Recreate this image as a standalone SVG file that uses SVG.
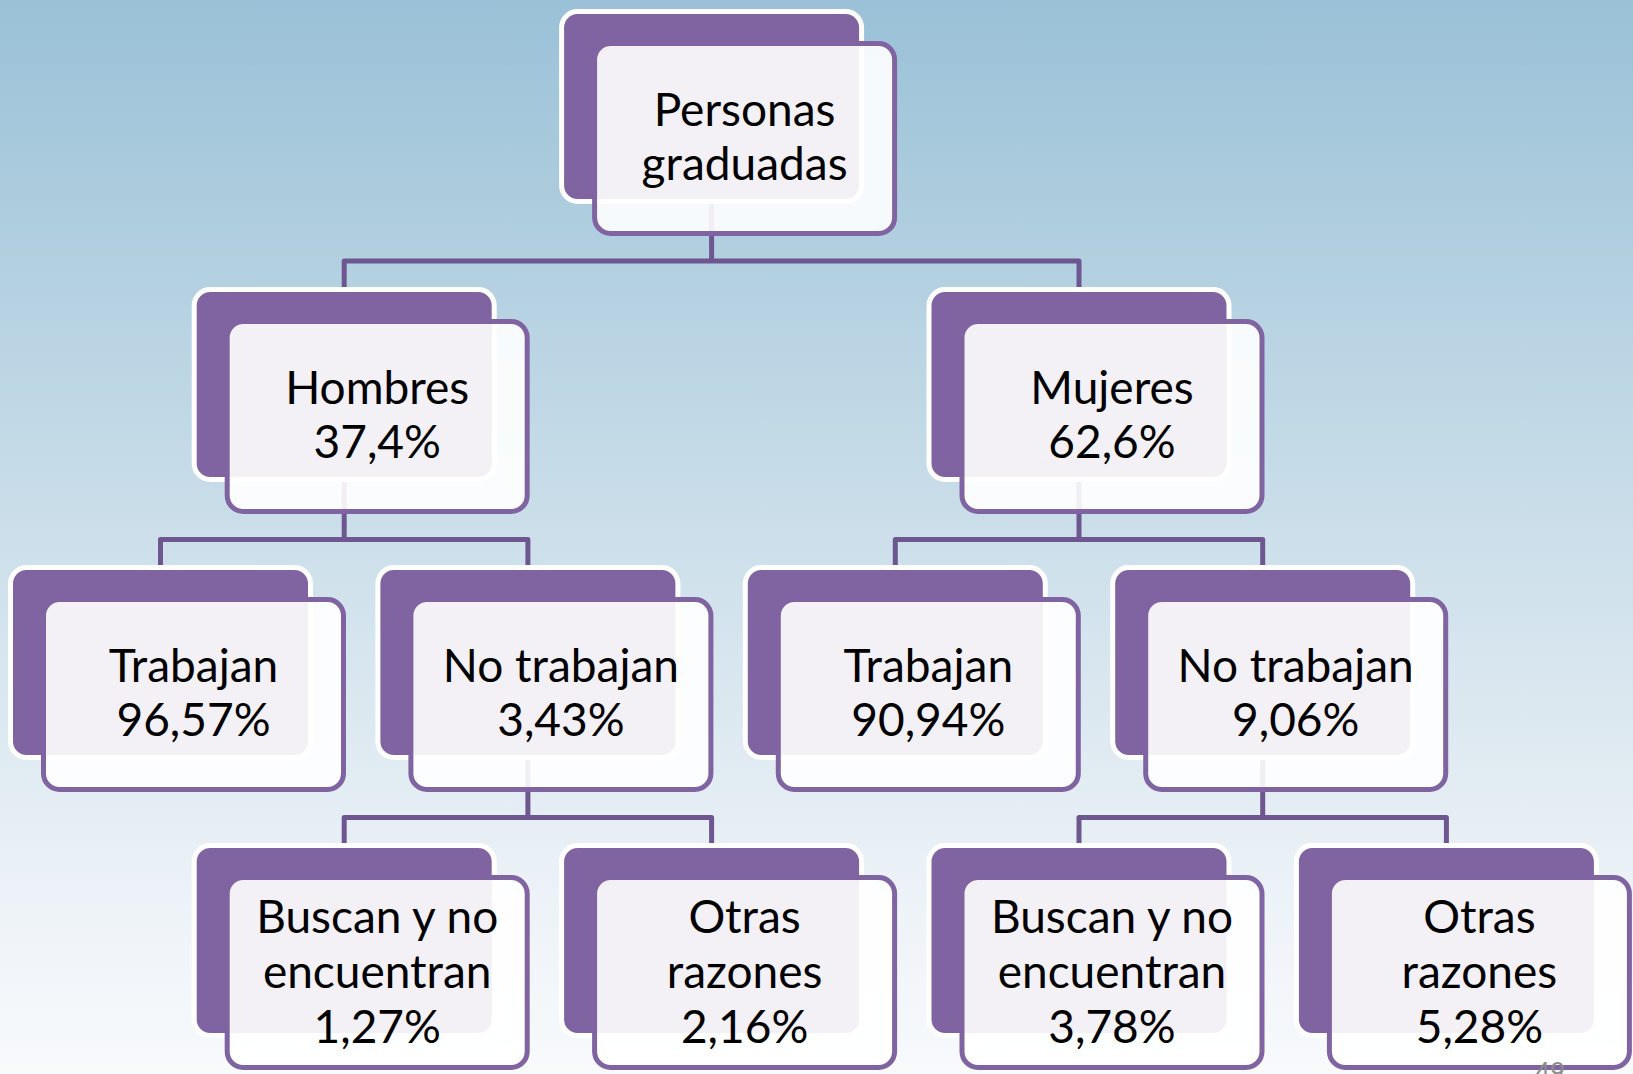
<svg xmlns="http://www.w3.org/2000/svg" width="1633" height="1074" viewBox="0 0 1633 1074">
<defs>
<linearGradient id="bg" x1="0" y1="0" x2="0" y2="1">
<stop offset="0" stop-color="#9AC1D7"/>
<stop offset="0.5" stop-color="#CCDFEA"/>
<stop offset="0.85" stop-color="#EEF3F8"/>
<stop offset="1" stop-color="#F8FAFC"/>
</linearGradient>
<style>
.back{fill:#8064A2;stroke:#FFFFFF;stroke-width:5}
.front{fill:#FFFFFF;fill-opacity:0.9;stroke:#8064A2;stroke-width:5}
.t{font-family:Lato,"Liberation Sans",sans-serif;font-size:46px;fill:#000000;text-anchor:middle}
.c{fill:none;stroke:#6E5690;stroke-width:5;stroke-linejoin:round}
</style>
</defs>
<rect x="0" y="0" width="1633" height="1074" fill="url(#bg)"/>
<g id="connectors">
<path class="c" d="M711.6 201.5V261M344.2 289.5V261H1079V289.5"/>
<path class="c" d="M344.2 479.5V539.5M160.5 567.5V539.5H527.9V567.5"/>
<path class="c" d="M1079 479.5V539.5M895.3 567.5V539.5H1262.7V567.5"/>
<path class="c" d="M527.9 757.5V817.5M344.2 845.5V817.5H711.6V845.5"/>
<path class="c" d="M1262.7 757.5V817.5M1079 845.5V817.5H1446.4V845.5"/>
</g>
<g id="n-top">
<rect class="back" x="561.6" y="11.5" width="300" height="190" rx="16"/>
<rect class="front" x="594.6" y="43.5" width="300" height="190" rx="16"/>
<text class="t" x="744.6" y="125.5">Personas</text>
<text class="t" x="744.6" y="179.5">graduadas</text>
</g>
<g id="n-hombres">
<rect class="back" x="194.2" y="289.5" width="300" height="190" rx="16"/>
<rect class="front" x="227.2" y="321.5" width="300" height="190" rx="16"/>
<text class="t" x="377.2" y="403.5">Hombres</text>
<text class="t" x="377.2" y="457.5">37,4%</text>
</g>
<g id="n-mujeres">
<rect class="back" x="929" y="289.5" width="300" height="190" rx="16"/>
<rect class="front" x="962" y="321.5" width="300" height="190" rx="16"/>
<text class="t" x="1112" y="403.5">Mujeres</text>
<text class="t" x="1112" y="457.5">62,6%</text>
</g>
<g id="n-trabajan-h">
<rect class="back" x="10.5" y="567.5" width="300" height="190" rx="16"/>
<rect class="front" x="43.5" y="599.5" width="300" height="190" rx="16"/>
<text class="t" x="193.5" y="681.5">Trabajan</text>
<text class="t" x="193.5" y="735.5">96,57%</text>
</g>
<g id="n-notrabajan-h">
<rect class="back" x="377.9" y="567.5" width="300" height="190" rx="16"/>
<rect class="front" x="410.9" y="599.5" width="300" height="190" rx="16"/>
<text class="t" x="560.9" y="681.5">No trabajan</text>
<text class="t" x="560.9" y="735.5">3,43%</text>
</g>
<g id="n-trabajan-m">
<rect class="back" x="745.3" y="567.5" width="300" height="190" rx="16"/>
<rect class="front" x="778.3" y="599.5" width="300" height="190" rx="16"/>
<text class="t" x="928.3" y="681.5">Trabajan</text>
<text class="t" x="928.3" y="735.5">90,94%</text>
</g>
<g id="n-notrabajan-m">
<rect class="back" x="1112.7" y="567.5" width="300" height="190" rx="16"/>
<rect class="front" x="1145.7" y="599.5" width="300" height="190" rx="16"/>
<text class="t" x="1295.7" y="681.5">No trabajan</text>
<text class="t" x="1295.7" y="735.5">9,06%</text>
</g>
<g id="n-buscan-h">
<rect class="back" x="194.2" y="845.5" width="300" height="190" rx="16"/>
<rect class="front" x="227.2" y="877.5" width="300" height="190" rx="16"/>
<text class="t" x="377.2" y="932.5">Buscan y no</text>
<text class="t" x="377.2" y="987.5">encuentran</text>
<text class="t" x="377.2" y="1042.5">1,27%</text>
</g>
<g id="n-otras-h">
<rect class="back" x="561.6" y="845.5" width="300" height="190" rx="16"/>
<rect class="front" x="594.6" y="877.5" width="300" height="190" rx="16"/>
<text class="t" x="744.6" y="932.5">Otras</text>
<text class="t" x="744.6" y="987.5">razones</text>
<text class="t" x="744.6" y="1042.5">2,16%</text>
</g>
<g id="n-buscan-m">
<rect class="back" x="929" y="845.5" width="300" height="190" rx="16"/>
<rect class="front" x="962" y="877.5" width="300" height="190" rx="16"/>
<text class="t" x="1112" y="932.5">Buscan y no</text>
<text class="t" x="1112" y="987.5">encuentran</text>
<text class="t" x="1112" y="1042.5">3,78%</text>
</g>
<g id="n-otras-m">
<rect class="back" x="1296.4" y="845.5" width="300" height="190" rx="16"/>
<rect class="front" x="1329.4" y="877.5" width="300" height="190" rx="16"/>
<text class="t" x="1479.4" y="932.5">Otras</text>
<text class="t" x="1479.4" y="987.5">razones</text>
<text class="t" x="1479.4" y="1042.5">5,28%</text>
</g>
<text x="1550" y="1082" font-family="Lato,'Liberation Sans',sans-serif" font-size="26" fill="#8C8C8C" text-anchor="middle">49</text>
</svg>
